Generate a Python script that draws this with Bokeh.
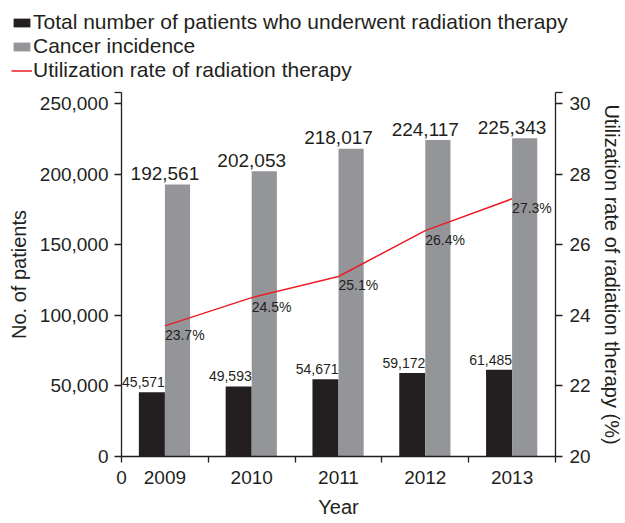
from bokeh.plotting import figure
from bokeh.models import (ColumnDataSource, Range1d, LinearAxis, FixedTicker,
                          Legend, LegendItem, NumeralTickFormatter)
from bokeh.layouts import column
from bokeh.core.properties import value
from bokeh.embed import file_html
from bokeh.resources import INLINE

# ---- data ----
years = ["2009", "2010", "2011", "2012", "2013"]
treated = [45571, 49593, 54671, 59172, 61485]
incidence = [192561, 202053, 218017, 224117, 225343]
rate = [23.7, 24.5, 25.1, 26.4, 27.3]
left_ticks = [0, 50000, 100000, 150000, 200000, 250000]
right_ticks = [20, 22, 24, 26, 28, 30]
series_names = ["Total number of patients who underwent radiation therapy",
                "Cancer incidence",
                "Utilization rate of radiation therapy"]

FONT = "Liberation Sans"
TXT = "#231f20"
BLACK = "#231f20"
GREY = "#939598"
RED = "#ed1c24"

W = 625
LEG_H = 88
MAIN_H = 523 - LEG_H

centers = [i + 0.5 for i in range(len(years))]
src = ColumnDataSource(dict(
    c=centers,
    xb=[c - 0.15 for c in centers],
    xg=[c + 0.145 for c in centers],
    treated=treated,
    incidence=incidence,
    rate=rate,
    tlab=[f"{v:,}" for v in treated],
    ilab=[f"{v:,}" for v in incidence],
    rlab=[f"{r}%" for r in rate],
))

y_top = 250000 * 364 / 353
r_top = 20 + 10 * 364 / 353

# ---------------- legend strip ----------------
lf = figure(width=W, height=LEG_H, output_backend="svg", toolbar_location=None,
            x_range=Range1d(0, 1), y_range=Range1d(0, 1),
            min_border_left=0, min_border_right=0, min_border_top=0,
            min_border_bottom=0, x_axis_type=None, y_axis_type=None)
lf.frame_align = False
lf.outline_line_color = None
lf.grid.visible = False
# off-view placeholder renderers, only used to draw the legend swatches
dummy = ColumnDataSource(dict(x=[-10, -11], y=[-10, -11]))
lb = lf.vbar(x="x", top="y", width=0.3, source=dummy, color=BLACK, line_color=None)
lg = lf.vbar(x="x", top="y", width=0.3, source=dummy, color=GREY, line_color=None)
ll = lf.line(x="x", y="y", source=dummy, line_color=RED, line_width=1.5)
legend = Legend(items=[
    LegendItem(label=series_names[0], renderers=[lb]),
    LegendItem(label=series_names[1], renderers=[lg]),
    LegendItem(label=series_names[2], renderers=[ll]),
], location=(11, 6), orientation="vertical",
    glyph_width=21, glyph_height=11, label_standoff=1, spacing=0,
    padding=0, margin=0, border_line_color=None, background_fill_alpha=0,
    label_text_font=FONT, label_text_font_size="21px", label_text_color=TXT,
    label_height=20)
lf.add_layout(legend, "center")

# ---------------- main chart ----------------
p = figure(width=W, height=MAIN_H, output_backend="svg", toolbar_location=None,
           x_range=Range1d(0, 5), y_range=Range1d(0, y_top),
           min_border_left=121, min_border_right=67, min_border_top=92 - LEG_H,
           min_border_bottom=67)
p.frame_align = False
p.outline_line_color = None
p.grid.visible = False
p.background_fill_color = "white"
p.border_fill_color = "white"
p.extra_y_ranges = {"rate": Range1d(20, r_top)}

vb = p.vbar(x="xb", top="treated", width=0.3, source=src, color=BLACK, line_color=None)
vg = p.vbar(x="xg", top="incidence", width=0.29, source=src, color=GREY, line_color=None)
ln = p.line(x="c", y="rate", source=src, line_color=RED, line_width=1.5,
            y_range_name="rate")

p.text(x="c", y="treated", text="tlab", source=src, text_align="right",
       text_baseline="alphabetic", y_offset=-10, text_color=TXT,
       text_font=value(FONT), text_font_size=value("14px"))
p.text(x="c", y="incidence", text="ilab", source=src, text_align="center",
       text_baseline="alphabetic", y_offset=-11, text_color=TXT,
       text_font=value(FONT), text_font_size=value("19px"))
p.text(x="c", y="rate", text="rlab", source=src, text_align="left",
       text_baseline="top", y_offset=1, text_color=TXT, y_range_name="rate",
       text_font=value(FONT), text_font_size=value("14px"))


def style(ax, size="19px"):
    ax.axis_line_color = TXT
    ax.axis_line_width = 1.3
    ax.major_tick_line_color = TXT
    ax.major_tick_line_width = 1.3
    ax.minor_tick_line_color = TXT
    ax.minor_tick_line_width = 1.3
    ax.major_tick_in = 0
    ax.minor_tick_in = 0
    ax.major_label_text_font = FONT
    ax.major_label_text_font_size = size
    ax.major_label_text_color = TXT
    ax.axis_label_text_font = FONT
    ax.axis_label_text_font_size = "20px"
    ax.axis_label_text_font_style = "normal"
    ax.axis_label_text_color = TXT


# x axis
xa = p.xaxis[0]
style(xa)
xa.ticker = FixedTicker(ticks=[0] + centers, minor_ticks=list(range(len(years) + 1)))
ov = {0: "0"}
for c, y in zip(centers, years):
    ov[c] = y
xa.major_label_overrides = ov
xa.major_tick_line_color = None
xa.major_tick_out = 6
xa.minor_tick_out = 6
xa.major_label_standoff = 8
xa.axis_label = "Year"
xa.axis_label_standoff = 9

# left axis
ya = p.yaxis[0]
style(ya)
ya.ticker = FixedTicker(ticks=left_ticks, minor_ticks=[y_top])
ya.formatter = NumeralTickFormatter(format="0,0")
ya.major_tick_out = 7
ya.minor_tick_out = 7
ya.major_label_standoff = 6
ya.axis_label = "No. of patients"
ya.axis_label_standoff = 7

# right axis
ra = LinearAxis(y_range_name="rate", axis_label="Utilization rate of radiation therapy (%)")
style(ra)
ra.ticker = FixedTicker(ticks=right_ticks, minor_ticks=[r_top])
ra.major_tick_out = 7
ra.minor_tick_out = 7
ra.major_label_standoff = 7
ra.axis_label_standoff = 7
p.add_layout(ra, "right")

layout = column(lf, p, spacing=0)
open("out.html", "w").write(file_html(layout, INLINE))
